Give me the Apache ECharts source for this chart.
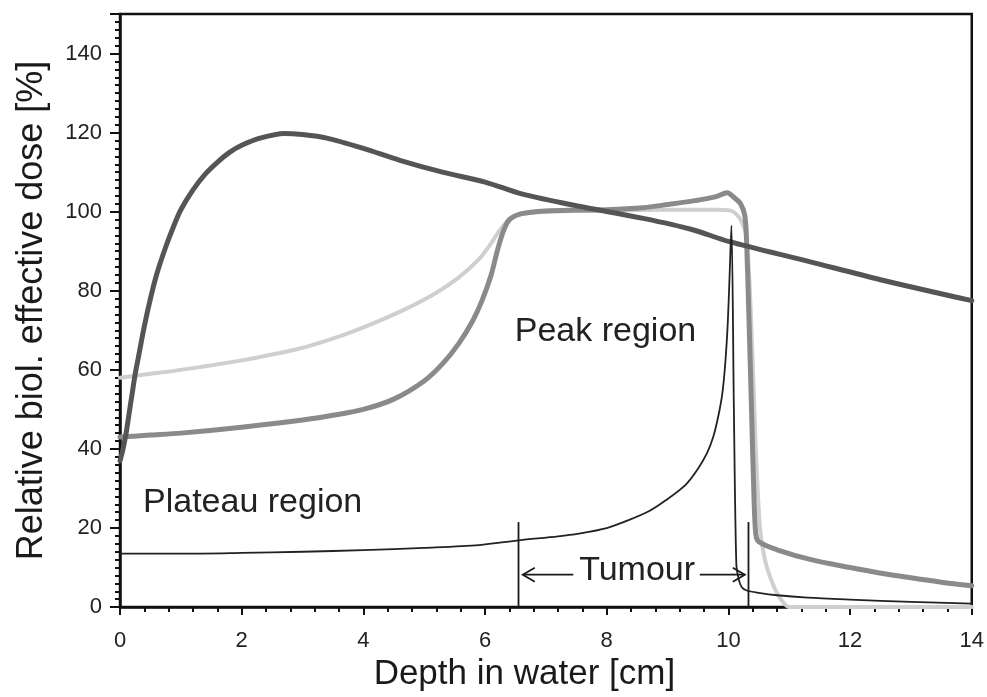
<!DOCTYPE html>
<html>
<head>
<meta charset="utf-8">
<script src="https://cdn.jsdelivr.net/npm/echarts@6/dist/echarts.min.js"></script>
<style>
  html, body { margin: 0; padding: 0; background: #fff; }
  #chart { width: 987px; height: 697px; }
</style>
</head>
<body>
<div id="chart"></div>
<script>
// Depth-dose curves: [depth in water (cm), relative biol. effective dose (%)]
const curveDark = [
  [0, 37], [0.05, 40], [0.1, 44], [0.15, 49], [0.2, 54], [0.25, 59], [0.3, 63],
  [0.4, 71], [0.5, 78], [0.6, 84], [0.75, 91], [0.9, 97], [1.0, 100.5],
  [1.2, 105.5], [1.4, 109.5], [1.6, 112.5], [1.8, 115], [2.0, 116.8],
  [2.3, 118.6], [2.7, 119.8], [3.0, 119.5], [3.4, 118.6], [4.0, 116],
  [4.6, 113], [5.3, 110], [6.0, 107.5], [6.6, 104.5], [7.5, 101.5],
  [8.6, 98.3], [9.4, 95.5], [10.0, 92.5], [11.3, 87.5], [12.5, 82.8], [14, 77.5]
];
const curveMid = [
  [0, 43], [0.5, 43.5], [1, 44], [2, 45.5], [3, 47.3], [3.5, 48.5], [4, 50],
  [4.5, 52.6], [5.0, 57.2], [5.3, 61.5], [5.57, 66.7], [5.8, 72.5],
  [5.95, 77.5], [6.1, 84], [6.2, 90], [6.3, 95], [6.4, 98], [6.6, 99.5],
  [7, 100.2], [7.5, 100.4], [8, 100.5], [8.6, 101], [9, 101.8], [9.45, 102.8],
  [9.8, 103.8], [9.98, 104.8], [10.1, 103.5], [10.2, 102], [10.27, 99],
  [10.3, 92], [10.34, 72], [10.38, 50], [10.42, 28], [10.45, 18.5],
  [10.5, 16.5], [10.8, 14.5], [11.36, 12], [12, 10], [12.46, 8.7],
  [13, 7.4], [13.5, 6.3], [14, 5.4]
];
const curveLight = [
  [0, 58], [0.5, 59], [1, 60], [2, 62.4], [3, 65.6], [3.7, 69], [4.2, 72],
  [4.75, 75.8], [5.2, 79.5], [5.57, 83.4], [5.9, 88], [6.1, 92], [6.25, 95.5],
  [6.4, 98], [6.6, 99.4], [7, 100], [8, 100.3], [9, 100.5], [9.8, 100.5],
  [10.05, 100.2], [10.2, 98], [10.3, 93], [10.38, 70], [10.45, 40],
  [10.52, 20], [10.6, 12], [10.7, 7], [10.8, 3.5], [10.9, 1.2], [11.0, 0],
  [12, 0], [13, 0], [14, 0]
];
const curveThin = [
  [0, 13.5], [1, 13.5], [2, 13.7], [3, 14], [4, 14.4], [5, 15], [5.9, 15.7],
  [6.56, 16.9], [7.2, 17.9], [7.54, 18.6], [8, 20], [8.36, 22], [8.7, 24.3],
  [8.97, 27], [9.3, 31], [9.5, 35], [9.65, 39], [9.75, 43], [9.83, 48],
  [9.9, 54], [9.95, 62], [9.99, 72], [10.02, 84], [10.05, 96.5],
  [10.09, 50], [10.13, 11], [10.17, 7], [10.22, 5], [10.3, 4.2], [10.5, 3.6],
  [10.8, 3], [11.3, 2.4], [12, 1.9], [13, 1.3], [14, 0.9]
];

// Annotation anchors in data units
const tumourEdges = [6.55, 10.33];
const tumourEdgeTop = 21.5;
const tumourArrow = { y: 8.2, from: 6.62, to: 10.27, gapLeft: 7.45, gapRight: 9.53 };
const tumourText = { text: 'Tumour', x: 8.5, y: 9.3 };
const regionLabels = [
  { text: 'Peak region', x: 7.98, y: 69.7 },
  { text: 'Plateau region', x: 2.18, y: 26.5 }
];

const FONT = '"Liberation Sans", Arial, Helvetica, sans-serif';
const INK = '#1a1a1a';

function renderNotes(params, api) {
  const children = [];
  const seg = (p, q, w) => children.push({
    type: 'line',
    shape: { x1: p[0], y1: p[1], x2: q[0], y2: q[1] },
    style: { stroke: INK, lineWidth: w }
  });
  tumourEdges.forEach(x => seg(api.coord([x, 0]), api.coord([x, tumourEdgeTop]), 1.8));

  const a0 = api.coord([tumourArrow.from, tumourArrow.y]);
  const a1 = api.coord([tumourArrow.gapLeft, tumourArrow.y]);
  const b0 = api.coord([tumourArrow.gapRight, tumourArrow.y]);
  const b1 = api.coord([tumourArrow.to, tumourArrow.y]);
  seg(a0, a1, 1.8);
  seg(b0, b1, 1.8);
  // open chevron heads
  children.push({ type: 'polyline',
    shape: { points: [[a0[0] + 12, a0[1] - 7], a0, [a0[0] + 12, a0[1] + 7]] },
    style: { stroke: INK, lineWidth: 1.8, fill: null } });
  children.push({ type: 'polyline',
    shape: { points: [[b1[0] - 12, b1[1] - 7], b1, [b1[0] - 12, b1[1] + 7]] },
    style: { stroke: INK, lineWidth: 1.8, fill: null } });

  const texts = regionLabels.concat([tumourText]);
  texts.forEach(t => {
    const p = api.coord([t.x, t.y]);
    children.push({ type: 'text', style: {
      text: t.text, x: p[0], y: p[1], fill: '#222',
      font: '34px ' + FONT,
      align: 'center', verticalAlign: 'middle',
      textAlign: 'center', textVerticalAlign: 'middle'
    } });
  });
  return { type: 'group', children };
}

const chart = echarts.init(document.getElementById('chart'), null, { renderer: 'canvas' });

const lineSeries = (data, color, width) => ({
  type: 'line', data, showSymbol: false, symbol: 'none', clip: false,
  smooth: 0.3,
  lineStyle: { color, width, join: 'round', cap: 'round' },
  emphasis: { disabled: true }, silent: true
});

chart.setOption({
  animation: false,
  backgroundColor: '#fff',
  grid: {
    left: 120, right: 13, top: 14, bottom: 89,
    show: true, borderColor: '#111', borderWidth: 2.5, backgroundColor: 'transparent'
  },
  xAxis: {
    type: 'value', min: 0, max: 14, interval: 2,
    name: 'Depth in water [cm]', nameLocation: 'middle', nameGap: 43,
    nameTextStyle: { fontFamily: FONT, fontSize: 35, color: '#1a1a1a', padding: [0, 43, 0, 0] },
    axisLine: { show: true, lineStyle: { color: '#111', width: 2.5 } },
    axisTick: { show: true, inside: false, length: 8, lineStyle: { color: '#111', width: 2 } },
    minorTick: { show: true, splitNumber: 5, length: 5, lineStyle: { color: '#111', width: 2 } },
    axisLabel: { margin: 23, fontFamily: FONT, fontSize: 22, color: '#222' },
    splitLine: { show: false }, minorSplitLine: { show: false }
  },
  yAxis: {
    type: 'value', min: 0, max: 150, interval: 20,
    name: 'Relative biol. effective dose [%]', nameLocation: 'middle', nameGap: 70,
    nameTextStyle: { fontFamily: FONT, fontSize: 36, color: '#1a1a1a' },
    axisLine: { show: true, lineStyle: { color: '#111', width: 2.5 } },
    axisTick: { show: true, inside: false, length: 10, lineStyle: { color: '#111', width: 2 } },
    minorTick: { show: true, splitNumber: 10, length: 5, lineStyle: { color: '#111', width: 2 } },
    axisLabel: { margin: 18, fontFamily: FONT, fontSize: 22, color: '#222', showMaxLabel: false },
    splitLine: { show: false }, minorSplitLine: { show: false }
  },
  series: [
    lineSeries(curveLight, '#cfcfcf', 4),
    lineSeries(curveMid, '#8a8a8a', 5),
    lineSeries(curveDark, '#555555', 5),
    lineSeries(curveThin, '#222222', 1.8),
    {
      type: 'custom', coordinateSystem: 'cartesian2d', data: [[0, 0]],
      renderItem: renderNotes, clip: false, silent: true, z: 5
    }
  ]
});
</script>
</body>
</html>
